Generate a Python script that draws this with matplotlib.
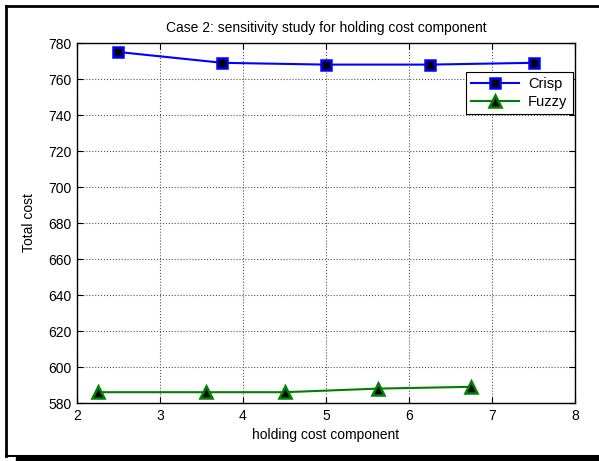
import matplotlib.pyplot as plt
from matplotlib.patches import Rectangle
from matplotlib.lines import Line2D

plt.rcParams['font.family'] = ['Liberation Sans', 'DejaVu Sans']

crisp_x = [2.5, 3.75, 5.0, 6.25, 7.5]
crisp_y = [775, 769, 768, 768, 769]
fuzzy_x = [2.25, 3.55, 4.5, 5.625, 6.75]
fuzzy_y = [586, 586, 586, 588, 589]

fig = plt.figure(figsize=(5.99, 4.61), dpi=100)
ax = fig.add_axes([0.1285, 0.1258, 0.8315, 0.7809])

ax.plot(crisp_x, crisp_y, color='blue', lw=1.5, marker='s', ms=7,
        mfc='black', mec='blue', mew=1.8, label='Crisp')
ax.plot(fuzzy_x, fuzzy_y, color='green', lw=1.5, marker='^', ms=8,
        mfc='black', mec='green', mew=1.8, label='Fuzzy')

ax.set_xlim(2, 8)
ax.set_ylim(580, 780)
ax.set_xticks(range(2, 9))
ax.set_yticks(range(580, 781, 20))
ax.tick_params(direction='in', top=True, right=True, labelsize=10, length=4, pad=4)
ax.grid(True, linestyle=':', color='#555555', linewidth=0.8)
for s in ax.spines.values():
    s.set_linewidth(1.0)

ax.set_title('Case 2: sensitivity study for holding cost component', fontsize=10, pad=8)
ax.set_xlabel('holding cost component', fontsize=10, labelpad=4)
ax.set_ylabel('Total cost', fontsize=10, labelpad=9)

leg = ax.legend(loc='upper right', bbox_to_anchor=(0.995, 0.92), fontsize=10.5,
                fancybox=False, framealpha=1, edgecolor='black', borderpad=0.35,
                handlelength=3.3, handletextpad=0.6, labelspacing=0.3, borderaxespad=0)
leg.get_frame().set_linewidth(0.8)

# figure frame with shadow
W, H = 599, 461
fig.add_artist(Line2D([6 / W, 6 / W], [5 / H, 1 - 6 / H], color='black', lw=2, transform=fig.transFigure))
fig.add_artist(Line2D([6 / W, 1], [1 - 6 / H, 1 - 6 / H], color='black', lw=2, transform=fig.transFigure))
fig.add_artist(Line2D([6 / W, 1], [5 / H, 5 / H], color='black', lw=1.5, transform=fig.transFigure))
fig.add_artist(Rectangle((16 / W, 0), 1, 4 / H, color='black', transform=fig.transFigure))

fig.savefig('out.png', dpi=100)
